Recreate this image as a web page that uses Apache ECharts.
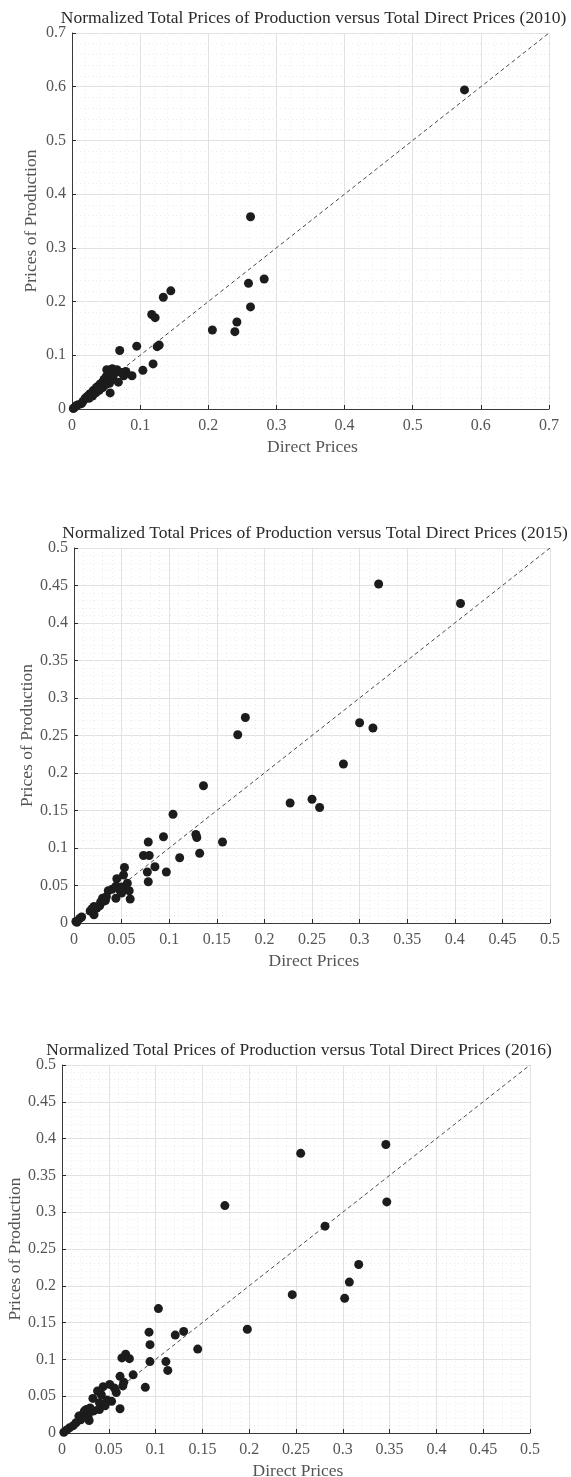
<!DOCTYPE html>
<html><head><meta charset="utf-8">
<script src="https://cdn.jsdelivr.net/npm/echarts@6/dist/echarts.min.js"></script>
<style>html,body{margin:0;padding:0;background:#fff}#c{width:571px;height:1477px}</style>
</head><body><div id="c"></div>
<script>
// ---- data ----
const titles = [
  'Normalized Total Prices of Production versus Total Direct Prices (2010)',
  'Normalized Total Prices of Production versus Total Direct Prices (2015)',
  'Normalized Total Prices of Production versus Total Direct Prices (2016)'
];
const xAxisTitle = 'Direct Prices';
const yAxisTitle = 'Prices of Production';
const axisMax = [0.7, 0.5, 0.5];
const axisStep = [0.1, 0.05, 0.05];

const x2010 = [0.576,0.262,0.282,0.259,0.262,0.242,0.239,0.206,0.145,0.134,0.117,0.122,0.125,0.128,0.119,0.104,0.095,0.070,0.088,0.079,0.076,0.068,0.066,0.059,0.051,0.056,
  0.002,0.004,0.006,0.009,0.014,0.016,0.019,0.021,0.023,0.025,0.026,0.028,0.030,0.031,0.033,0.035,0.036,0.038,0.040,0.041,0.043,0.045,0.046,0.047,0.049,0.050,0.052,0.054,0.055,0.058,0.060,0.062,0.064,0.072];
const y2010 = [0.594,0.358,0.242,0.234,0.190,0.162,0.144,0.147,0.220,0.208,0.176,0.170,0.116,0.119,0.084,0.072,0.117,0.109,0.062,0.070,0.062,0.050,0.073,0.075,0.073,0.030,
  0.001,0.003,0.006,0.008,0.010,0.014,0.019,0.022,0.024,0.020,0.028,0.029,0.024,0.034,0.036,0.030,0.040,0.042,0.035,0.046,0.048,0.040,0.052,0.055,0.045,0.060,0.050,0.058,0.048,0.055,0.060,0.066,0.070,0.068];

const x2015 = [0.320,0.406,0.180,0.172,0.300,0.314,0.283,0.227,0.250,0.258,0.136,0.104,0.156,0.128,0.129,0.132,0.111,0.094,0.097,0.085,0.078,0.073,0.079,0.077,0.078,
  0.053,0.052,0.045,0.044,0.050,0.056,0.058,0.059,0.044,0.048,0.050,0.054,0.040,0.036,0.034,0.030,0.031,0.027,0.024,0.021,0.020,0.021,0.017,0.019,0.028,0.033,0.008,0.006,0.003,0.002];
const y2015 = [0.452,0.426,0.274,0.251,0.267,0.260,0.212,0.160,0.165,0.154,0.183,0.145,0.108,0.118,0.114,0.093,0.087,0.115,0.068,0.075,0.108,0.090,0.090,0.068,0.055,
  0.074,0.064,0.059,0.049,0.048,0.053,0.043,0.032,0.033,0.044,0.040,0.046,0.045,0.043,0.035,0.033,0.029,0.023,0.020,0.022,0.014,0.011,0.016,0.019,0.028,0.030,0.008,0.006,0.001,0.002];

const x2016 = [0.346,0.255,0.347,0.174,0.281,0.317,0.307,0.302,0.246,0.198,0.103,0.093,0.094,0.121,0.130,0.145,0.094,0.111,0.113,0.089,0.076,0.068,0.064,0.072,0.062,0.066,0.065,0.062,
  0.051,0.056,0.058,0.044,0.038,0.033,0.053,0.048,0.040,0.040,0.046,0.030,0.026,0.028,0.029,0.022,0.018,0.020,0.015,0.012,0.008,0.005,0.002,0.034,0.042,0.024];
const y2016 = [0.392,0.380,0.314,0.309,0.281,0.229,0.205,0.183,0.188,0.141,0.169,0.137,0.120,0.133,0.138,0.114,0.097,0.097,0.085,0.062,0.079,0.107,0.102,0.101,0.077,0.069,0.064,0.033,
  0.066,0.061,0.055,0.063,0.057,0.047,0.043,0.045,0.041,0.032,0.037,0.034,0.032,0.024,0.017,0.025,0.023,0.018,0.014,0.010,0.007,0.004,0.001,0.030,0.052,0.030];

const xs = [x2010, x2015, x2016];
const ys = [y2010, y2015, y2016];

// ---- layout ----
const grids = [
  {left: 72, top: 33, width: 477, height: 376},
  {left: 74, top: 548, width: 476, height: 375},
  {left: 62, top: 1065, width: 468, height: 368}
];
const FONT = 'Liberation Serif';

const chart = echarts.init(document.getElementById('c'), null, {renderer: 'canvas'});

const option = {
  backgroundColor: '#fff',
  animation: false,
  grid: grids.map(g => Object.assign({containLabel: false, outerBoundsMode: 'none'}, g)),
  xAxis: grids.map((g, i) => axisCfg(i, 'x')),
  yAxis: grids.map((g, i) => axisCfg(i, 'y')),
  series: [],
  graphic: []
};

function axisCfg(i, dim) {
  return {
    gridIndex: i, type: 'value', min: 0, max: axisMax[i], interval: axisStep[i],
    axisLine: {show: true, onZero: false, lineStyle: {color: '#3a3a3a', width: 1}},
    axisTick: {show: true, inside: true, length: 4, lineStyle: {color: '#2a2a2a'}},
    axisLabel: {color: '#555', fontFamily: FONT, fontSize: 16, margin: dim === 'x' ? 9 : 6, hideOverlap: false},
    splitLine: {show: true, lineStyle: {color: '#e2e2e2', width: 1}},
    minorTick: {show: false, splitNumber: 5},
    minorSplitLine: {show: true, lineStyle: {color: '#ececec', width: 1, type: [1, 3]}}
  };
}

for (let i = 0; i < 3; i++) {
  const pts = xs[i].map((v, k) => [v, ys[i][k]]);
  option.series.push({
    type: 'line', xAxisIndex: i, yAxisIndex: i, data: [[0, 0], [axisMax[i], axisMax[i]]],
    showSymbol: false, silent: true, z: 2,
    lineStyle: {color: '#4a4a4a', width: 1, type: [4, 3]}
  });
  option.series.push({
    type: 'scatter', xAxisIndex: i, yAxisIndex: i, data: pts,
    symbol: 'circle', symbolSize: 9, z: 3,
    itemStyle: {color: '#1c1c1c', opacity: 1}
  });
  const g = grids[i];
  const cx = g.left + g.width / 2;
  option.graphic.push({
    type: 'text', x: cx + 3, y: g.top - 15,
    style: {text: titles[i], font: '17.5px "' + FONT + '"', fill: '#2a2a2a', align: 'center', verticalAlign: 'middle'}
  });
  option.graphic.push({
    type: 'text', x: cx + 2, y: g.top + g.height + 38,
    style: {text: xAxisTitle, font: '17.5px "' + FONT + '"', fill: '#555', align: 'center', verticalAlign: 'middle'}
  });
}
const yNameX = [31, 27, 15];
for (let i = 0; i < 3; i++) {
  const g = grids[i];
  option.graphic.push({
    type: 'text', x: yNameX[i], y: g.top + g.height / 2, rotation: Math.PI / 2,
    style: {text: yAxisTitle, font: '17.5px "' + FONT + '"', fill: '#555', align: 'center', verticalAlign: 'middle'}
  });
}

chart.setOption(option);
</script>
</body></html>
